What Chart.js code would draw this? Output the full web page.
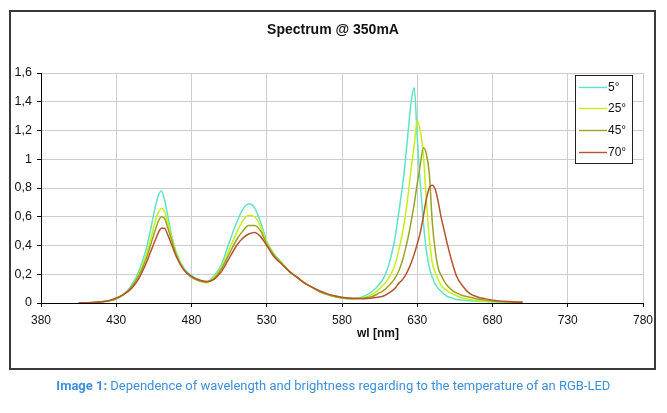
<!DOCTYPE html>
<html><head><meta charset="utf-8">
<script src="https://cdn.jsdelivr.net/npm/chart.js@4.4.0/dist/chart.umd.min.js"></script>
<style>
html,body{margin:0;padding:0;background:#fff;width:667px;height:413px;overflow:hidden}
#wrap{position:relative;width:667px;height:413px}
canvas{position:absolute;left:0;top:0}
#cap{position:absolute;left:0;top:378px;width:667px;text-align:center;font-family:Roboto,"Noto Sans",sans-serif;font-size:13px;line-height:16px;color:#3d8fdc;white-space:nowrap}
#capin{display:inline-block;transform-origin:center center}
</style></head><body>
<div id="wrap"><canvas id="c" width="667" height="413"></canvas>
<div id="cap"><span id="capin"><b>Image 1:</b> Dependence of wavelength and brightness regarding to the temperature of an RGB-LED</span></div></div>
<script>
// Wavelength grid (nm)
const wavelengths = [405,410,415,420,425,430,435,440,445,450,453,456,458,460,462,464,467,470,475,480,485,490,495,500,505,510,514,518,522,526,530,535,540,545,550,555,560,565,570,575,580,585,590,595,600,604,608,612,615,618,620,622,624,626,628,630,632,634,636,638,640,642,644,646,648,650,653,656,660,665,670,675,680,690,700];

// Relative intensity per junction temperature
const deg5 = [0,0.002,0.004,0.008,0.015,0.03,0.06,0.12,0.22,0.38,0.52,0.67,0.75,0.78,0.72,0.62,0.46,0.35,0.24,0.19,0.16,0.145,0.19,0.27,0.42,0.56,0.65,0.69,0.66,0.56,0.43,0.34,0.28,0.22,0.18,0.14,0.11,0.08,0.06,0.045,0.035,0.03,0.032,0.05,0.08,0.12,0.18,0.30,0.44,0.65,0.80,0.98,1.20,1.40,1.50,1.15,0.83,0.57,0.37,0.25,0.18,0.13,0.10,0.08,0.06,0.045,0.035,0.025,0.02,0.015,0.012,0.01,0.008,0.005,0.003];
const deg25 = [0,0.002,0.004,0.008,0.015,0.03,0.06,0.11,0.20,0.34,0.45,0.57,0.63,0.66,0.64,0.57,0.45,0.34,0.23,0.18,0.155,0.14,0.18,0.25,0.37,0.49,0.57,0.61,0.60,0.53,0.42,0.335,0.275,0.22,0.18,0.14,0.11,0.08,0.06,0.045,0.035,0.03,0.03,0.04,0.06,0.09,0.13,0.19,0.26,0.38,0.48,0.60,0.76,0.94,1.10,1.27,1.20,1.04,0.72,0.45,0.28,0.21,0.16,0.12,0.10,0.085,0.065,0.05,0.035,0.025,0.018,0.013,0.01,0.006,0.004];
const deg45 = [0,0.002,0.004,0.008,0.015,0.03,0.06,0.11,0.19,0.31,0.41,0.51,0.57,0.60,0.59,0.53,0.43,0.33,0.23,0.18,0.155,0.145,0.17,0.24,0.34,0.44,0.50,0.54,0.54,0.50,0.41,0.33,0.275,0.22,0.18,0.14,0.11,0.08,0.06,0.045,0.035,0.03,0.03,0.035,0.045,0.065,0.09,0.13,0.17,0.23,0.29,0.37,0.46,0.57,0.69,0.83,0.96,1.08,1.04,0.90,0.56,0.36,0.24,0.19,0.15,0.12,0.09,0.07,0.052,0.04,0.028,0.02,0.014,0.008,0.005];
const deg70 = [0,0.002,0.004,0.008,0.016,0.035,0.06,0.10,0.17,0.28,0.36,0.44,0.49,0.52,0.52,0.48,0.40,0.32,0.23,0.185,0.16,0.15,0.165,0.22,0.31,0.40,0.45,0.48,0.49,0.46,0.40,0.32,0.27,0.22,0.18,0.14,0.11,0.085,0.065,0.05,0.04,0.035,0.033,0.03,0.035,0.04,0.05,0.075,0.10,0.14,0.16,0.19,0.23,0.28,0.34,0.41,0.49,0.60,0.72,0.80,0.82,0.79,0.70,0.59,0.50,0.41,0.29,0.19,0.12,0.065,0.042,0.03,0.02,0.01,0.005];

const seriesLabels = ['5°','25°','45°','70°'];
const seriesColors = ['#5fe2c8','#c8ee1a','#9ba323','#b5532f'];
const chartTitle = 'Spectrum @ 350mA';
const xAxisTitle = 'wl [nm]';

const FONT = '"Liberation Sans", Arial, sans-serif';

const decor = {
  id: 'decor',
  beforeDraw(chart) {
    const ctx = chart.ctx;
    ctx.save();
    ctx.fillStyle = '#fff';
    ctx.fillRect(0, 0, chart.width, chart.height);
    ctx.restore();
  },
  afterDraw(chart) {
    const ctx = chart.ctx;
    ctx.save();
    // outer frame
    ctx.strokeStyle = '#3a3a3a';
    ctx.lineWidth = 2;
    ctx.strokeRect(10, 11, 645, 358);
    // title
    ctx.fillStyle = '#111';
    ctx.font = 'bold 14px ' + FONT;
    ctx.textAlign = 'center';
    ctx.textBaseline = 'middle';
    ctx.fillText(chartTitle, 333, 30);
    // x axis title
    ctx.font = 'bold 12px ' + FONT;
    ctx.fillText(xAxisTitle, 378, 334);
    // legend
    const lx = 575, ly = 75, lw = 57, lh = 88;
    ctx.fillStyle = '#fff';
    ctx.fillRect(lx, ly, lw, lh);
    ctx.strokeStyle = '#222';
    ctx.lineWidth = 1;
    ctx.strokeRect(lx + 0.5, ly + 0.5, lw, lh);
    ctx.font = '12px ' + FONT;
    ctx.textAlign = 'left';
    chart.data.datasets.forEach((ds, i) => {
      const y = Math.round(86.5 + i * 21.8) + 0.5;
      ctx.strokeStyle = ds.borderColor;
      ctx.lineWidth = 1.4;
      ctx.beginPath();
      ctx.moveTo(579, y);
      ctx.lineTo(607, y);
      ctx.stroke();
      ctx.fillStyle = '#111';
      ctx.fillText(ds.label, 608, y + 0.5);
    });
    ctx.restore();
  }
};

const yFmt = v => {
  const r = Math.round(v * 10) / 10;
  if (r === 0) return '0';
  if (Number.isInteger(r)) return String(r);
  return r.toFixed(1).replace('.', ',');
};

const vals = [deg5, deg25, deg45, deg70];
new Chart(document.getElementById('c').getContext('2d'), {
  type: 'line',
  data: {
    datasets: vals.map((arr, i) => ({
      label: seriesLabels[i],
      data: wavelengths.map((w, j) => ({ x: w, y: arr[j] })),
      borderColor: seriesColors[i],
      backgroundColor: seriesColors[i],
      borderWidth: 1.5,
      pointRadius: 0,
      cubicInterpolationMode: 'monotone',
      fill: false,
      order: 4 - i
    }))
  },
  options: {
    responsive: false,
    animation: false,
    devicePixelRatio: 1,
    layout: { padding: { left: 0, right: 24, top: 73, bottom: 0 } },
    plugins: { legend: { display: false }, title: { display: false }, tooltip: { enabled: false } },
    scales: {
      x: {
        type: 'linear', min: 380, max: 780,
        afterFit(s) { s.height = 110; },
        ticks: { stepSize: 50, autoSkip: false, maxRotation: 0, padding: 6, color: '#111', font: { size: 12, family: FONT } },
        grid: { color: '#cdcdcd', tickColor: '#000', tickLength: 4, lineWidth: 1 },
        border: { color: '#000', width: 1 }
      },
      y: {
        min: 0, max: 1.6,
        afterFit(s) { s.width = 41; },
        ticks: { stepSize: 0.2, padding: 5, color: '#111', font: { size: 12.5, family: FONT }, callback: yFmt },
        grid: { color: '#cdcdcd', tickColor: '#000', tickLength: 4, lineWidth: 1 },
        border: { color: '#000', width: 1 }
      }
    }
  },
  plugins: [decor]
});

// fit caption width to the reference line length
const capin = document.getElementById('capin');
const w = capin.getBoundingClientRect().width;
if (w > 0) capin.style.transform = 'scaleX(' + (554 / w).toFixed(4) + ')';
</script>
</body></html>
